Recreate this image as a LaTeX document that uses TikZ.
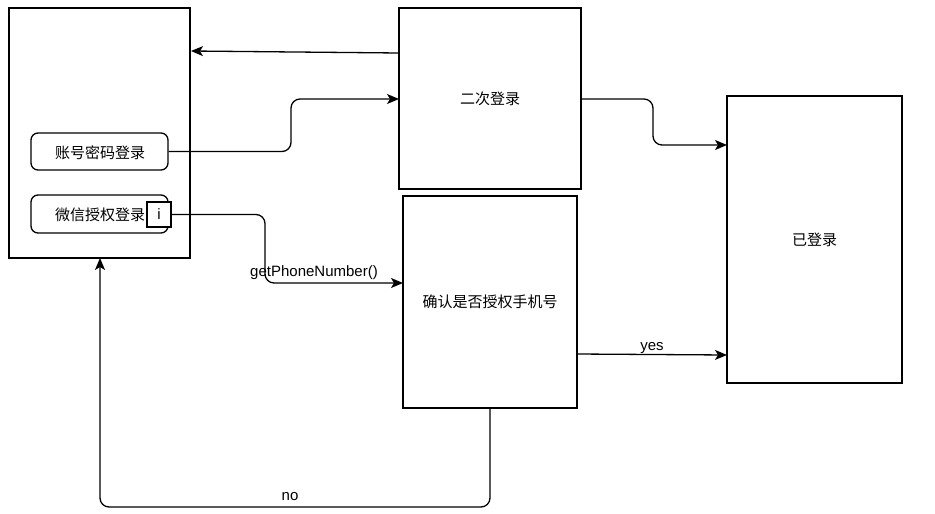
\documentclass[tikz,border=0pt]{standalone}
\usepackage{fontspec}
\setmainfont{Liberation Sans}
\newfontfamily\cjk{Noto Sans CJK SC}
\usetikzlibrary{arrows.meta}
\begin{document}
\begin{tikzpicture}[x=1pt,y=-1pt,
  box/.style={draw, line width=1.3pt, inner sep=0pt, font=\cjk\fontsize{15}{17}\selectfont},
  btn/.style={draw, line width=1.3pt, rounded corners=7pt, inner sep=0pt},
  conn/.style={line width=1.3pt, rounded corners=9pt, -{Stealth[length=12pt,width=10pt,inset=3pt]}},
  lbl/.style={font=\fontsize{15}{18}\selectfont, inner sep=1pt}]
\useasboundingbox (0,0) rectangle (935,514);
% boxes
\node[box, minimum width=181pt, minimum height=250pt] (left) at (99.5,133) {};
\node[btn, minimum width=137pt, minimum height=37pt] (b1) at (99.5,151.5) {};
\node[font=\cjk\fontsize{15}{17}\selectfont] (t1) at (100,153) {账号密码登录};
\node[btn, minimum width=137pt, minimum height=38pt] (b2) at (99.5,214) {};
\node[font=\cjk\fontsize{15}{17}\selectfont] (t2) at (100,215) {微信授权登录};
\node[draw, fill=white, line width=1.3pt, minimum width=24pt, minimum height=25pt, inner sep=0pt, font=\fontsize{15}{18}\selectfont] (ib) at (159,214.5) {i};
\node[box, minimum width=182pt, minimum height=181pt] (second) at (490,98.5) {二次登录};
\node[box, minimum width=174pt, minimum height=212pt] (confirm) at (490,302) {确认是否授权手机号};
\node[box, minimum width=175pt, minimum height=287pt] (done) at (814.5,239.5) {已登录};
% coordinates
\coordinate (s1) at (399,53);
\coordinate (e1) at (191,51);
\coordinate (c1) at (399,99);
\coordinate (d1) at (727,145);
\coordinate (f1) at (403,283);
\coordinate (y0) at (577,354);
\coordinate (y1) at (727,355);
\coordinate (n0) at (490,408);
\coordinate (n1) at (100,258);
% connectors
\draw[conn] (s1) -- (e1);
\draw[conn] (b1.east) -- (291,151.5) -- (291,99) -- (c1);
\draw[conn] (second.east |- 0,99) -- (653,99) -- (653,145) -- (d1);
\draw[conn] (ib.east) -- (265,214.5) -- (265,283) -- (f1);
\draw[conn] (y0) -- (y1);
\draw[conn] (n0) -- (490,507) -- (100,507) -- (n1);
% labels
\node[lbl] (lg) at (314,273) {getPhoneNumber()};
\node[lbl] (ly) at (652,348) {yes};
\node[lbl] (ln) at (290,497) {no};
\end{tikzpicture}
\end{document}
